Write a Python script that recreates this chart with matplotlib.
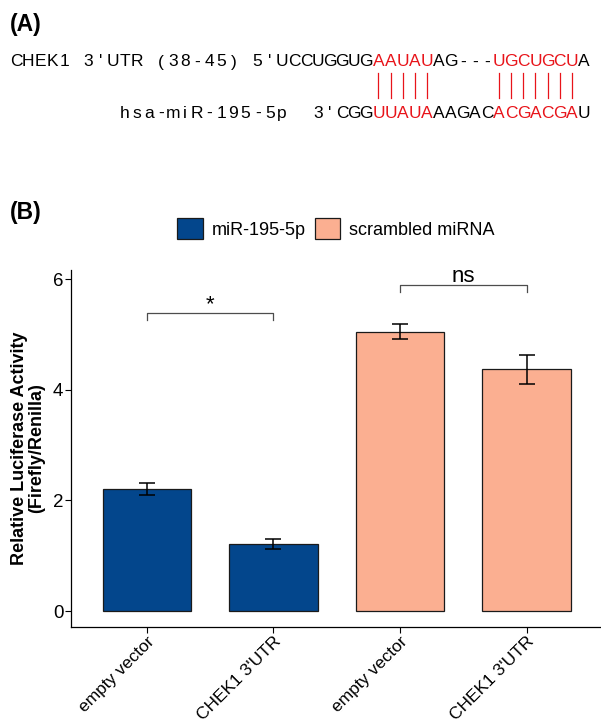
import matplotlib
matplotlib.use("Agg")
import matplotlib.pyplot as plt
from matplotlib.patches import Patch
from matplotlib.lines import Line2D
from matplotlib.transforms import ScaledTranslation

plt.rcParams["font.family"] = ["Liberation Sans", "DejaVu Sans"]

# ---- panel A: target site alignment ----
UTR_LABEL = "CHEK1 3'UTR (38-45) 5'"
UTR_SEQ = "UCCUGGUGAAUAUAG---UGCUGCUA"
MIR_LABEL = "hsa-miR-195-5p  3'"
MIR_SEQ = "CGGUUAUAAAGACACGACGAU"
UTR_RED = [(8, 13), (18, 25)]   # paired stretches, index into UTR_SEQ
MIR_RED = [(3, 8), (13, 20)]    # paired stretches, index into MIR_SEQ

# ---- panel B: luciferase assay ----
GROUPS = ["empty vector", "CHEK1 3'UTR", "empty vector", "CHEK1 3'UTR"]
TREATMENT = ["miR-195-5p", "miR-195-5p", "scrambled miRNA", "scrambled miRNA"]
MEANS = [2.21, 1.21, 5.05, 4.37]
ERRS = [0.11, 0.085, 0.14, 0.26]
# (left bar, right bar, bracket height, label)
SIGNIF = [(0, 1, 5.39, "*"), (2, 3, 5.89, "ns")]

COLORS = {"miR-195-5p": "#03468C", "scrambled miRNA": "#FBAF91"}

W, H = 601, 728
fig = plt.figure(figsize=(W / 100, H / 100), dpi=100)


def fx(px):
    return px / W


def fy(py):
    return 1 - py / H


# fixed-pitch layout of the alignment
PITCH, X0 = 12.08, 10


def colx(col):
    return fx(X0 + (col + 0.5) * PITCH)


def red_cols(ranges, offset):
    return {offset + i for a, b in ranges for i in range(a, b)}


def draw_row(text, start_col, reds, base_y):
    for i, ch in enumerate(text):
        col = start_col + i
        if ch == " ":
            continue
        fig.text(colx(col), fy(base_y), ch, ha="center", va="baseline",
                 fontsize=12.5, color="#E8141A" if col in reds else "black")


utr_reds = red_cols(UTR_RED, len(UTR_LABEL))
mir_start = len(UTR_LABEL) + len(UTR_SEQ) - len(MIR_LABEL) - len(MIR_SEQ)
mir_reds = red_cols(MIR_RED, mir_start + len(MIR_LABEL))
draw_row(UTR_LABEL + UTR_SEQ, 0, utr_reds, 66.5)
draw_row(MIR_LABEL + MIR_SEQ, mir_start, mir_reds, 118)
for col in sorted(utr_reds):
    fig.add_artist(Line2D([colx(col)] * 2, [fy(73), fy(98)], color="#E8141A", lw=0.9))

fig.text(fx(10), fy(24), "(A)", fontsize=16.5, fontweight="bold", ha="left", va="center")
fig.text(fx(10), fy(213), "(B)", fontsize=16.5, fontweight="bold", ha="left", va="center")

# ---- bar chart ----
ax = fig.add_axes([fx(71), fy(627), (602.5 - 71) / W, (627 - 270) / H])
xs = list(range(1, len(MEANS) + 1))
ax.bar(xs, MEANS, width=0.7, color=[COLORS[t] for t in TREATMENT],
       edgecolor="#1a1a1a", linewidth=0.9, zorder=2)
ax.errorbar(xs, MEANS, yerr=ERRS, fmt="none", ecolor="black", elinewidth=1.1,
            capsize=5.5, capthick=1.1, zorder=3)

for i, j, yb, lab in SIGNIF:
    ax.plot([xs[i], xs[i], xs[j], xs[j]], [yb - 0.13, yb, yb, yb - 0.13],
            color="#4d4d4d", lw=0.9, clip_on=False)
    ax.text((xs[i] + xs[j]) / 2, yb + 0.055, lab, ha="center", va="baseline",
            fontsize=16)

ax.set_xlim(0.4, 4.6)
ax.set_ylim(-0.289, 6.163)
ax.set_yticks([0, 2, 4, 6])
ax.set_xticks(xs)
ax.set_xticklabels(GROUPS, rotation=45, ha="right", va="top", rotation_mode="anchor")
for lab in ax.get_xticklabels():
    lab.set_transform(lab.get_transform() + ScaledTranslation(6 / 100, 0, fig.dpi_scale_trans))
ax.tick_params(axis="both", length=4, width=0.8, colors="black")
ax.tick_params(axis="y", pad=1.5, labelsize=13.5)
ax.tick_params(axis="x", pad=1.2, labelsize=12.5)
for s in ["top", "right"]:
    ax.spines[s].set_visible(False)
for s in ["left", "bottom"]:
    ax.spines[s].set_linewidth(0.9)

fig.text(fx(28), fy(448.5), "Relative Luciferase Activity\n(Firefly/Renilla)",
         rotation=90, ha="center", va="center", fontsize=13, fontweight="bold",
         linespacing=1.0)

handles = [Patch(facecolor=COLORS[k], edgecolor="#1a1a1a", linewidth=0.9) for k in COLORS]
fig.legend(handles, list(COLORS), loc="center", bbox_to_anchor=(fx(336), fy(228.5)),
           ncol=2, frameon=False, fontsize=13, handlelength=1.4, handleheight=1.4,
           handletextpad=0.5, columnspacing=0.5, borderpad=0)

fig.savefig("out.png", dpi=100)
